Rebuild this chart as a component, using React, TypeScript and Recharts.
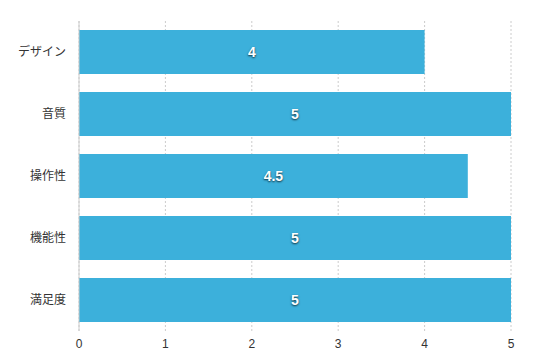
import React from 'react';
import { BarChart, Bar, XAxis, YAxis, CartesianGrid, LabelList } from 'recharts';

const categories = ['デザイン', '音質', '操作性', '機能性', '満足度'];
const scores = [4, 5, 4.5, 5, 5];
const xTicks = [0, 1, 2, 3, 4, 5];

const data = categories.map((name, i) => ({ name, score: scores[i] }));

const FONT = '"Liberation Sans", "Noto Sans CJK JP", sans-serif';

// 値ラベル: バーの中央に白文字＋影
const CenterLabel = (props: any) => {
  const { x, y, width, height, value } = props;
  return (
    <text
      x={x + width / 2}
      y={y + height / 2}
      textAnchor="middle"
      dominantBaseline="central"
      fill="#fff"
      fontSize={14}
      fontWeight={600}
      style={{ textShadow: '0 1px 2px rgba(0,0,0,0.75)', fontFamily: FONT }}
    >
      {value}
    </text>
  );
};

export default function App() {
  return (
    <div style={{ position: 'absolute', left: 0, top: 0, background: '#fff' }}>
      <BarChart
        width={558}
        height={362}
        data={data}
        layout="vertical"
        margin={{ top: 21, right: 47, bottom: 0, left: 0 }}
        barCategoryGap={9}
      >
        <CartesianGrid horizontal={false} stroke="#ccc" strokeDasharray="2 2" />
        <XAxis
          type="number"
          domain={[0, 5]}
          ticks={xTicks}
          axisLine={false}
          tickLine={false}
          height={31}
          tickMargin={2}
          tick={{ fill: '#333', fontSize: 12, fontFamily: FONT }}
        />
        <YAxis
          type="category"
          dataKey="name"
          width={79}
          axisLine={{ stroke: '#ccc' }}
          tickLine={false}
          tickMargin={7}
          tick={{ fill: '#333', fontSize: 12, fontFamily: FONT }}
        />
        <Bar dataKey="score" fill="#3CB0DB" isAnimationActive={false}>
          <LabelList dataKey="score" content={<CenterLabel />} />
        </Bar>
      </BarChart>
    </div>
  );
}
